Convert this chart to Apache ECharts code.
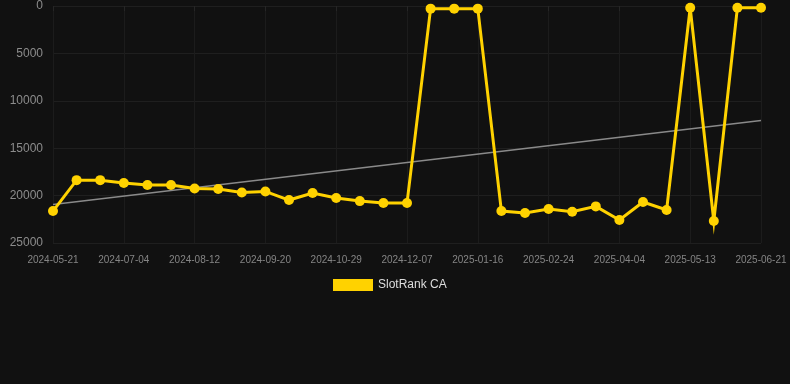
<!DOCTYPE html>
<html>
<head>
<meta charset="utf-8">
<style>
  html, body { margin: 0; padding: 0; background: #111111; }
  #chart { width: 790px; height: 384px; }
</style>
<script src="https://cdn.jsdelivr.net/npm/echarts@6/dist/echarts.min.js"></script>
</head>
<body>
<div id="chart"></div>
<script>
// dates (category axis), one every ~2 weeks
const dates = [
  '2024-05-21', '2024-06-04', '2024-06-19', '2024-07-04', '2024-07-17', '2024-07-30',
  '2024-08-12', '2024-08-25', '2024-09-07', '2024-09-20', '2024-10-03', '2024-10-16',
  '2024-10-29', '2024-11-11', '2024-11-24', '2024-12-07', '2024-12-20', '2025-01-03',
  '2025-01-16', '2025-01-29', '2025-02-11', '2025-02-24', '2025-03-09', '2025-03-22',
  '2025-04-04', '2025-04-17', '2025-04-30', '2025-05-13', '2025-05-26', '2025-06-08',
  '2025-06-21'
];

// rank values (lower = better, axis inverted)
const rankCA = [
  21630, 18370, 18370, 18680, 18890, 18890,
  19250, 19310, 19670, 19560, 20470, 19730,
  20260, 20580, 20790, 20790, 280, 280,
  280, 21630, 21840, 21420, 21700, 21140,
  22580, 20680, 21520, 180, 22680, 180,
  180
];

// trend line end points
const trendStart = 20930;
const trendEnd = 12080;

const yTicks = { min: 0, max: 25000, interval: 5000 };

const trend = dates.map((d, i) => {
  if (i === 0) return trendStart;
  if (i === dates.length - 1) return trendEnd;
  return null;
});

const myChart = echarts.init(document.getElementById('chart'));
const option = {
  backgroundColor: '#111111',
  animation: false,
  grid: {
    left: 53,
    right: 29,
    top: 6,
    bottom: 141,
  },
  legend: {
    data: ['SlotRank CA'],
    left: 328,
    top: 274,
    itemWidth: 40,
    itemHeight: 12,
    icon: 'rect',
    textStyle: {
      color: '#dddddd',
      fontSize: 12,
      fontFamily: 'Arial, Liberation Sans, sans-serif',
    },
  },
  xAxis: {
    type: 'category',
    data: dates,
    boundaryGap: false,
    axisLine: { show: false },
    axisTick: {
      show: true,
      interval: 2,
      lineStyle: { color: '#262626' },
    },
    axisLabel: {
      interval: 2,
      color: '#858585',
      fontSize: 10,
      margin: 12,
      fontFamily: 'Arial, Liberation Sans, sans-serif',
    },
    splitLine: {
      show: true,
      interval: 2,
      lineStyle: { color: '#1c1c1c', width: 1 },
    },
  },
  yAxis: {
    type: 'value',
    inverse: true,
    min: yTicks.min,
    max: yTicks.max,
    interval: yTicks.interval,
    axisLine: { show: false },
    axisTick: { show: false },
    axisLabel: {
      color: '#8c8c8c',
      fontSize: 12,
      margin: 10,
      fontFamily: 'Arial, Liberation Sans, sans-serif',
      formatter: (v) => String(v),
    },
    splitLine: {
      lineStyle: { color: '#1f1f1f', width: 1 },
    },
  },
  series: [
    {
      name: 'trend',
      type: 'line',
      data: trend,
      connectNulls: true,
      symbol: 'none',
      silent: true,
      lineStyle: { color: '#8a8a8a', width: 1.5 },
      z: 1,
    },
    {
      name: 'SlotRank CA',
      type: 'line',
      data: rankCA,
      symbol: 'circle',
      symbolSize: 10,
      color: '#ffd200',
      itemStyle: { color: '#ffd200' },
      lineStyle: { color: '#ffd200', width: 3, join: 'miter' },
      z: 2,
    },
  ],
};
myChart.setOption(option);
</script>
</body>
</html>
